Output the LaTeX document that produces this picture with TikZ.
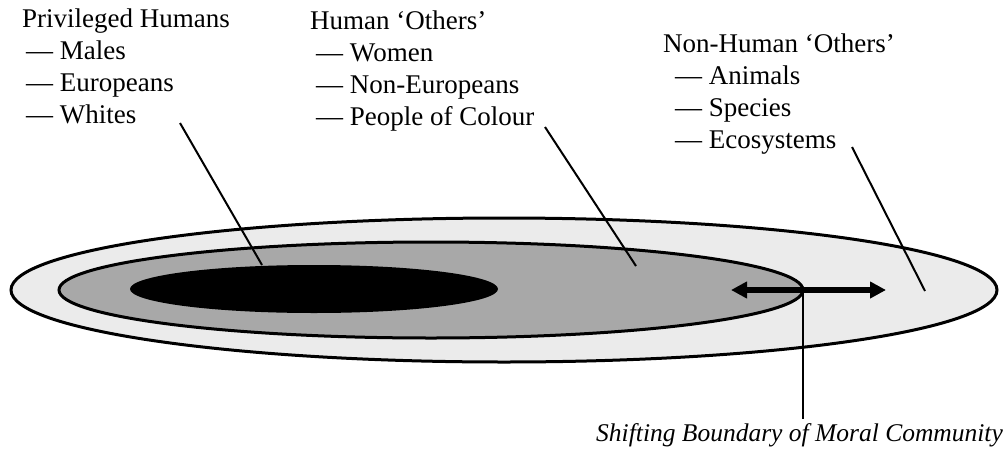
\documentclass[tikz,border=0pt]{standalone}
\usepackage{fontspec}
\setmainfont{Liberation Serif}
\usetikzlibrary{arrows.meta,positioning}
\tikzset{
  ring/.style={draw=black,line width=3pt},
  leader/.style={draw=black,line width=2pt},
  group/.style={anchor=north west,align=left,inner sep=0pt,
    font=\fontsize{27}{32}\selectfont},
}
\begin{document}
\begin{tikzpicture}[x=1pt,y=-1pt]
    \useasboundingbox (0,0) rectangle (1007,469);
    % the three circles of the moral community
    \draw[ring,fill=black!8] (504,290) ellipse [x radius=493,y radius=72];
    \draw[ring,fill=black!34] (431,290) ellipse [x radius=372,y radius=48];
    \fill[black] (314,289) ellipse [x radius=184,y radius=24];
    % labels
    \node[group] (priv) at (22,9) {Privileged Humans\\
        \hspace{4pt}— Males\\ \hspace{4pt}— Europeans\\ \hspace{4pt}— Whites};
    \node[group] (human) at (310,11) {Human ‘Others’\\
        \hspace{6pt}— Women\\ \hspace{6pt}— Non-Europeans\\ \hspace{6pt}— People of Colour};
    \node[group] (nonhuman) at (663,34) {Non-Human ‘Others’\\
        \hspace{12pt}— Animals\\ \hspace{12pt}— Species\\ \hspace{12pt}— Ecosystems};
    \node[anchor=base east,inner sep=0pt,font=\fontsize{25.5}{32}\selectfont\itshape]
        (shift) at (1003,441) {Shifting Boundary of Moral Community};
    % leader lines
    \coordinate (whitesA) at (180,123);
    \coordinate (whitesB) at (262,265);
    \coordinate (colourA) at (545,127);
    \coordinate (colourB) at (636,266);
    \coordinate (ecoA) at (852,147);
    \coordinate (ecoB) at (925,291);
    \draw[leader] (whitesA) -- (whitesB);
    \draw[leader] (colourA) -- (colourB);
    \draw[leader] (ecoA) -- (ecoB);
    % shifting boundary
    \coordinate (bound) at (803,290);
    \coordinate (boundL) at (731,290);
    \coordinate (boundR) at (886,290);
    \coordinate (boundD) at (803,419);
    \draw[line width=5.5pt,{Triangle[length=16pt,width=16pt]}-{Triangle[length=16pt,width=16pt]}]
        (boundL) -- (boundR);
    \draw[leader] (bound) -- (boundD);
\end{tikzpicture}
\end{document}
